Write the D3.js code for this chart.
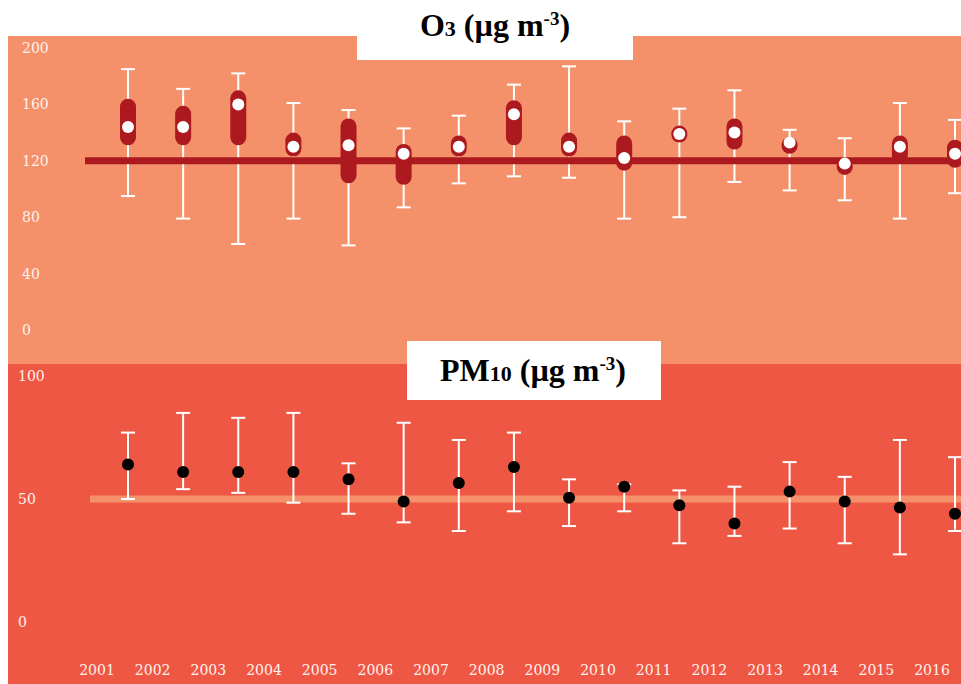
<!DOCTYPE html>
<html>
<head>
<meta charset="utf-8">
<script src="https://cdn.jsdelivr.net/npm/d3@7"></script>
<style>
  body { margin: 0; background: #ffffff; }
  svg { display: block; }
</style>
</head>
<body>
<div id="chart"></div>
<script>
// data
var years = [2001, 2002, 2003, 2004, 2005, 2006, 2007, 2008, 2009, 2010, 2011, 2012, 2013, 2014, 2015, 2016];

var o3Max  = [185, 171, 182, 161, 156, 143, 152, 174, 187, 148, 157, 170, 142, 136, 161, 149];
var o3Min  = [95, 79, 61, 79, 60, 87, 104, 109, 108, 79, 80, 105, 99, 92, 79, 97];
var o3High = [164, 159, 170, 140, 150, 132, 138, 163, 140, 138, 145, 150, 137, 122, 138, 135];
var o3Low  = [131, 131, 131, 123, 104, 103, 123, 131, 123, 113, 133, 128, 125, 110, 118, 115];
var o3Mean = [144, 144, 160, 130, 131, 125, 130, 153, 130, 122, 139, 140, 133, 118, 130, 125];
var o3Ticks = [0, 40, 80, 120, 160, 200];
var o3Limit = 120;

var pmMax  = [77, 85, 83, 85, 64.5, 81, 74, 77, 58, 56, 53.5, 55, 65, 59, 74, 67];
var pmMin  = [50, 54, 52.5, 48.5, 44, 40.5, 37, 45, 39, 45, 32, 35, 38, 32, 27.5, 37];
var pmMean = [64, 61, 61, 61, 58, 49, 56.5, 63, 50.5, 55, 47.5, 40, 53, 49, 46.5, 44];
var pmTicks = [0, 50, 100];
var pmLimit = 50;

var width = 961, height = 684;
var topColor = "#f4916a", bottomColor = "#ef5745", darkRed = "#ac1a1f";

var svg = d3.select("#chart")
    .append("svg")
    .attr("width", width)
    .attr("height", height);

// panel backgrounds
svg.append("rect").attr("x", 8).attr("y", 36).attr("width", width - 8).attr("height", 328).style("fill", topColor);
svg.append("rect").attr("x", 8).attr("y", 364).attr("width", width - 8).attr("height", height - 364).style("fill", bottomColor);

var x = d3.scaleLinear().domain([2001, 2016]).range([128, 955]);
var xLabel = d3.scaleLinear().domain([2001, 2016]).range([97, 932]);

var yO3 = d3.scaleLinear().domain([0, 200]).range([330, 48]);
var yPM = d3.scaleLinear().domain([0, 100]).range([622, 376]);

var labelFont = "DejaVu Serif";

function yLabels(scale, ticks, left) {
    svg.append("g")
        .selectAll("text")
        .data(ticks)
        .enter()
        .append("text")
        .attr("x", left)
        .attr("y", function (d) { return scale(d); })
        .attr("dy", "0.36em")
        .attr("font-family", labelFont)
        .attr("font-size", 14)
        .style("fill", "#fff3ee")
        .text(function (d) { return d; });
}

function whiskers(scale, lo, hi) {
    var g = svg.append("g").style("stroke", "#ffffff").style("stroke-width", 2);
    years.forEach(function (yr, i) {
        var cx = x(yr);
        g.append("line").attr("x1", cx).attr("x2", cx).attr("y1", scale(hi[i])).attr("y2", scale(lo[i]));
        g.append("line").attr("x1", cx - 7).attr("x2", cx + 7).attr("y1", scale(hi[i])).attr("y2", scale(hi[i]));
        g.append("line").attr("x1", cx - 7).attr("x2", cx + 7).attr("y1", scale(lo[i])).attr("y2", scale(lo[i]));
    });
}

// ---- O3 panel ----
yLabels(yO3, o3Ticks, 22);
whiskers(yO3, o3Min, o3Max);

svg.append("line")
    .attr("x1", 85).attr("x2", width)
    .attr("y1", yO3(o3Limit)).attr("y2", yO3(o3Limit))
    .style("stroke", darkRed)
    .style("stroke-width", 7);

svg.append("g")
    .selectAll("rect")
    .data(years)
    .enter()
    .append("rect")
    .attr("x", function (d) { return x(d) - 8; })
    .attr("y", function (d, i) { return yO3(o3High[i]); })
    .attr("width", 16)
    .attr("height", function (d, i) { return yO3(o3Low[i]) - yO3(o3High[i]); })
    .attr("rx", 8)
    .style("fill", darkRed);

svg.append("g")
    .selectAll("circle")
    .data(years)
    .enter()
    .append("circle")
    .attr("cx", function (d) { return x(d); })
    .attr("cy", function (d, i) { return yO3(o3Mean[i]); })
    .attr("r", 6)
    .style("fill", "#ffffff");

// ---- PM10 panel ----
yLabels(yPM, pmTicks, 18);

svg.append("line")
    .attr("x1", 90).attr("x2", width)
    .attr("y1", yPM(pmLimit)).attr("y2", yPM(pmLimit))
    .style("stroke", topColor)
    .style("stroke-width", 7);

whiskers(yPM, pmMin, pmMax);

svg.append("g")
    .selectAll("circle")
    .data(years)
    .enter()
    .append("circle")
    .attr("cx", function (d) { return x(d); })
    .attr("cy", function (d, i) { return yPM(pmMean[i]); })
    .attr("r", 6)
    .style("fill", "#000000");

// year labels
svg.append("g")
    .selectAll("text")
    .data(years)
    .enter()
    .append("text")
    .attr("x", function (d) { return xLabel(d); })
    .attr("y", 670)
    .attr("dy", "0.36em")
    .attr("text-anchor", "middle")
    .attr("font-family", labelFont)
    .attr("font-size", 14)
    .style("fill", "#fff3ee")
    .text(function (d) { return d; });

// ---- titles ----
function title(cx, baseline, main, sub, boxX, boxY, boxW, boxH) {
    svg.append("rect").attr("x", boxX).attr("y", boxY).attr("width", boxW).attr("height", boxH).style("fill", "#ffffff");
    var t = svg.append("text")
        .attr("x", cx)
        .attr("y", baseline)
        .attr("text-anchor", "middle")
        .attr("font-family", "Liberation Serif")
        .attr("font-weight", "bold")
        .attr("font-size", 32)
        .style("fill", "#000000");
    t.append("tspan").text(main);
    t.append("tspan").attr("font-size", 22).text(sub);
    t.append("tspan").text(" (µg m");
    t.append("tspan").attr("font-size", 19).attr("dy", -11).text("-3");
    t.append("tspan").attr("dy", 11).text(")");
}

title(495, 36, "O", "3", 357, 0, 276, 60);
title(533, 381, "PM", "10", 407, 341, 254, 59);
</script>
</body>
</html>
